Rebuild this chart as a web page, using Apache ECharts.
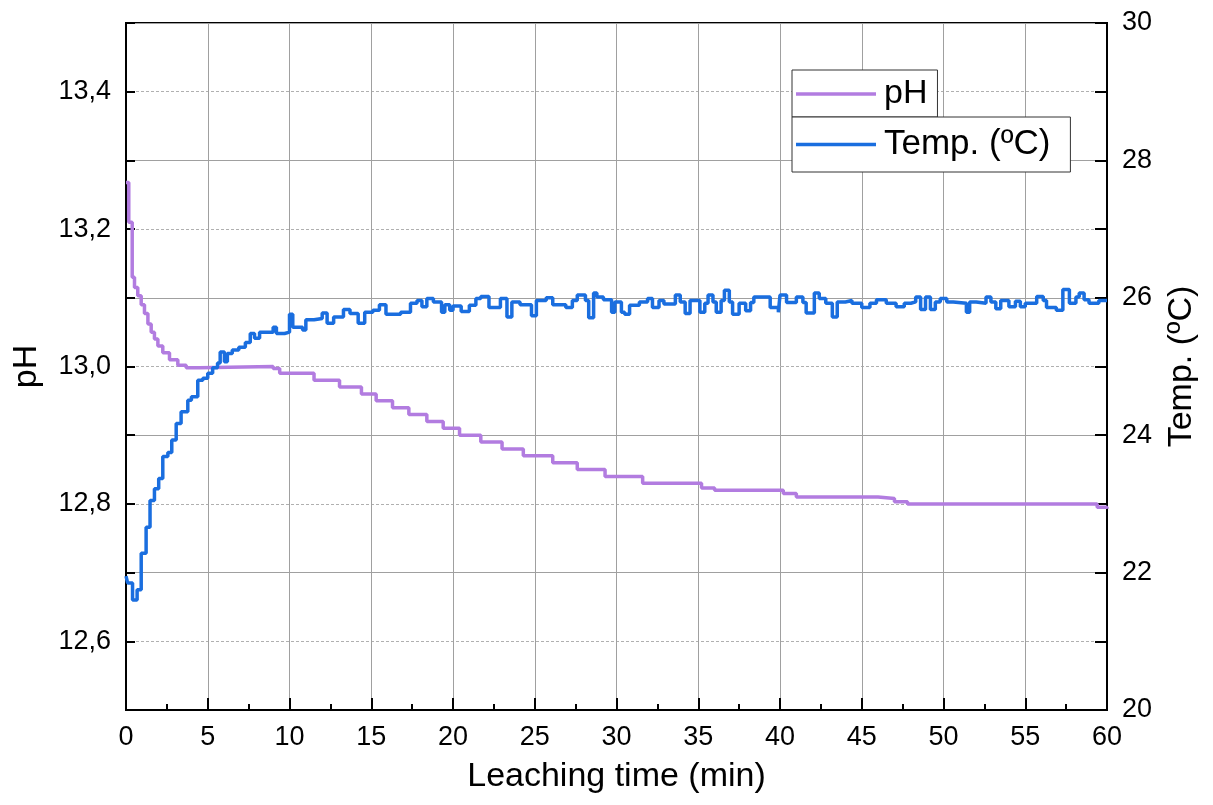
<!DOCTYPE html>
<html>
<head>
<meta charset="utf-8">
<script src="https://cdn.jsdelivr.net/npm/echarts@6/dist/echarts.min.js"></script>
<style>html,body{margin:0;padding:0;background:#fff;}#c{width:1213px;height:805px;}</style>
</head>
<body>
<div id="c"></div>
<script>
// pH change points (step series): time in min, value
const pHTime = [0,0.17,0.38,0.52,0.72,0.93,1.13,1.34,1.54,1.74,1.95,2.25,2.66,3.17,3.68,4.5,9.0,9.4,11.5,13.06,14.4,15.3,16.3,17.3,18.4,19.4,20.4,21.7,23.0,24.3,26.1,27.6,29.3,31.6,35.2,36.0,40.2,41.0,46.0,47.0,47.8,59.4,60];
const pHVal  = [13.268,13.21,13.13,13.115,13.103,13.09,13.077,13.062,13.05,13.04,13.03,13.02,13.01,13.002,12.998,13.0,12.997,12.99,12.98,12.97,12.96,12.95,12.94,12.93,12.92,12.91,12.90,12.89,12.88,12.87,12.86,12.85,12.84,12.83,12.823,12.82,12.815,12.81,12.808,12.803,12.80,12.795,12.793];

// Temperature change points (step series)
const tempTime = [0,0.1,0.4,0.68,0.93,1.23,1.47,1.74,2.0,2.25,2.56,2.8,3.07,3.37,3.78,4.0,4.39,4.7,5.0,5.3,5.6,5.76,6.02,6.2,6.5,6.9,7.3,7.6,7.86,8.17,9.0,9.2,9.7,10.0,10.2,10.8,11.0,11.5,12.0,12.3,12.7,13.3,13.7,14.2,14.6,15.1,15.5,15.9,16.8,17.4,17.8,18.1,18.4,18.8,19.3,19.5,19.8,20.0,20.5,21.0,21.4,21.7,22.2,22.9,23.3,23.6,24.1,24.8,25.1,25.7,26.1,26.9,27.3,27.6,28.1,28.3,28.6,28.8,29.2,29.7,29.9,30.3,30.5,30.8,31.4,31.9,32.2,32.6,32.9,33.6,33.9,34.2,34.5,35.1,35.4,35.6,35.9,36.1,36.4,36.6,36.9,37.1,37.5,37.9,38.2,38.4,39.4,39.9,40.0,40.4,41.0,41.4,41.6,42.1,42.4,42.8,43.2,43.5,44.0,44.4,45.0,45.5,45.9,46.5,47.1,47.6,48.0,48.3,48.6,48.9,49.2,49.5,49.8,50.2,50.6,51.4,51.6,52.0,52.6,52.9,53.2,53.5,54.0,54.4,54.7,55.0,55.7,56.1,56.3,56.9,57.3,57.7,58.1,58.3,58.6,58.9,59.5,60];
const tempVal  = [21.95,21.85,21.6,21.75,22.28,22.66,23.05,23.22,23.37,23.69,23.75,23.93,24.17,24.34,24.51,24.56,24.8,24.83,24.9,24.98,25.05,25.21,25.07,25.19,25.24,25.28,25.35,25.48,25.41,25.5,25.57,25.48,25.5,25.76,25.57,25.53,25.68,25.7,25.78,25.63,25.72,25.83,25.77,25.63,25.79,25.82,25.9,25.76,25.79,25.92,25.96,25.87,25.99,25.94,25.79,25.9,25.82,25.88,25.8,25.89,25.99,26.02,25.86,25.99,25.72,25.94,25.9,25.74,25.96,26.0,25.9,25.86,25.96,26.04,25.96,25.71,26.07,26.01,25.97,25.79,25.94,25.79,25.76,25.89,25.94,25.99,25.86,25.96,25.91,26.04,25.94,25.77,25.96,25.79,25.92,26.04,25.94,25.79,25.96,26.11,25.94,25.76,25.92,25.81,25.93,26.01,25.86,25.79,26.04,25.93,26.01,25.93,25.78,26.07,25.99,25.92,25.72,25.94,25.96,25.92,25.86,25.92,25.97,25.92,25.87,25.92,25.94,26.01,25.83,26.01,25.83,25.94,25.99,25.94,25.92,25.79,25.94,25.92,26.01,25.94,25.84,25.96,25.87,25.95,25.87,25.92,26.02,25.96,25.86,25.82,26.12,25.92,26.01,26.07,25.97,25.92,25.96,25.96];

const xTicks = {min: 0, max: 60, interval: 5};
const pHAxis = {min: 12.5, max: 13.5, interval: 0.1};
const tAxis = {min: 20, max: 30, interval: 2};

const FONT = 'Liberation Sans';
const pHData = pHTime.map((t, i) => [t, pHVal[i]]);
const tempData = tempTime.map((t, i) => [t, tempVal[i]]);

const chart = echarts.init(document.getElementById('c'));
chart.setOption({
  animation: false,
  backgroundColor: '#fff',
  grid: {left: 126, right: 106, top: 23, bottom: 95, show: true, borderColor: '#000', borderWidth: 2, containLabel: false},
  legend: [
    {data: ['pH'], left: 792, top: 70, orient: 'vertical', icon: 'rect', itemWidth: 80, itemHeight: 3.5,
     padding: [7, 10, 6, 4], borderColor: '#333', borderWidth: 1, backgroundColor: '#fff',
     textStyle: {fontFamily: FONT, fontSize: 34, color: '#000', padding: [0, 0, 0, 3]}},
    {data: ['Temp. (ºC)'], left: 792, top: 117, orient: 'vertical', icon: 'rect', itemWidth: 80, itemHeight: 3.5,
     padding: [10, 20, 10, 4], borderColor: '#333', borderWidth: 1, backgroundColor: '#fff',
     textStyle: {fontFamily: FONT, fontSize: 35, color: '#000', padding: [0, 0, 0, 3]}}
  ],
  xAxis: {
    type: 'value', min: xTicks.min, max: xTicks.max, interval: xTicks.interval,
    name: 'Leaching time (min)', nameLocation: 'middle', nameGap: 50,
    nameTextStyle: {fontFamily: FONT, fontSize: 34, color: '#000'},
    axisLine: {show: true, lineStyle: {color: '#000', width: 2}},
    axisTick: {show: true, inside: true, length: 12, lineStyle: {color: '#000', width: 2}},
    minorTick: {show: true, splitNumber: 2, length: 6, lineStyle: {color: '#000', width: 2}},
    splitLine: {show: true, lineStyle: {color: '#a0a0a0', width: 1}},
    axisLabel: {fontFamily: FONT, fontSize: 27, color: '#000', margin: 14}
  },
  yAxis: [
    {
      type: 'value', position: 'left', min: pHAxis.min, max: pHAxis.max, interval: pHAxis.interval,
      name: 'pH', nameLocation: 'middle', nameGap: 82, nameRotate: 90,
      nameTextStyle: {fontFamily: FONT, fontSize: 34, color: '#000'},
      axisLine: {show: true, lineStyle: {color: '#000', width: 2}},
      axisTick: {show: true, inside: true, length: 9, lineStyle: {color: '#000', width: 2}},
      splitLine: {show: true, lineStyle: {color: '#b0b0b0', width: 1, type: [3, 2]}},
      axisLabel: {fontFamily: FONT, fontSize: 27, color: '#000', margin: 15,
        formatter: v => (Math.round(v * 10) % 2 === 0 ? v.toFixed(1).replace('.', ',') : '')}
    },
    {
      type: 'value', position: 'right', min: tAxis.min, max: tAxis.max, interval: tAxis.interval,
      name: 'Temp. (ºC)', nameLocation: 'middle', nameGap: 58, nameRotate: 90,
      nameTextStyle: {fontFamily: FONT, fontSize: 34, color: '#000'},
      axisLine: {show: true, lineStyle: {color: '#000', width: 2}},
      axisTick: {show: true, inside: true, length: 12, lineStyle: {color: '#000', width: 2}},
      minorTick: {show: true, splitNumber: 2, length: 12, lineStyle: {color: '#000', width: 2}},
      splitLine: {show: true, lineStyle: {color: '#a0a0a0', width: 1}},
      axisLabel: {fontFamily: FONT, fontSize: 27, color: '#000', margin: 15}
    }
  ],
  series: [
    {name: 'pH', type: 'line', yAxisIndex: 0, step: 'end', symbol: 'none', showSymbol: false, data: pHData,
     lineStyle: {color: '#b27ce0', width: 3.5}, itemStyle: {color: '#b27ce0'}},
    {name: 'Temp. (ºC)', type: 'line', yAxisIndex: 1, step: 'end', symbol: 'none', showSymbol: false, data: tempData,
     lineStyle: {color: '#1a6edf', width: 3.5}, itemStyle: {color: '#1a6edf'}}
  ]
});
</script>
</body>
</html>
